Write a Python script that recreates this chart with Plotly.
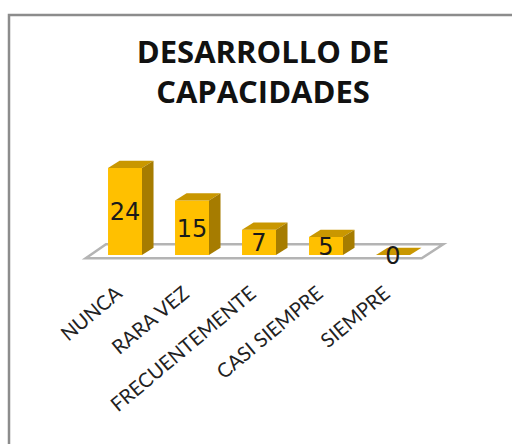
import plotly.graph_objects as go

# chart data
categories = ["NUNCA", "RARA VEZ", "FRECUENTEMENTE", "CASI SIEMPRE", "SIEMPRE"]
values = [24, 15, 7, 5, 0]
positions = list(range(len(categories)))

# fake 3D look, in axis units
BAR_WIDTH = 0.507
DEPTH_X = 0.172
DEPTH_Y = 2.0
LABEL_DROP = 0.8
TICK_SHIFT = 0.12

FRONT = "#FFC000"
TOP = "#C99700"
SIDE = "#A67C00"
FLOOR_LINE = "#B4B4B4"
BORDER = "#8C8C8C"

fig = go.Figure()

fig.add_trace(go.Bar(
    x=positions,
    y=values,
    width=BAR_WIDTH,
    marker=dict(color=FRONT, line=dict(width=0)),
    hoverinfo="skip",
))

# top and side faces of each bar
for pos, val in zip(positions, values):
    left = pos - BAR_WIDTH / 2
    right = pos + BAR_WIDTH / 2
    fig.add_trace(go.Scatter(
        x=[left, right, right + DEPTH_X, left + DEPTH_X, left],
        y=[val, val, val + DEPTH_Y, val + DEPTH_Y, val],
        mode="lines",
        fill="toself",
        fillcolor=TOP,
        line=dict(width=0),
        hoverinfo="skip",
    ))
    if val > 0:
        fig.add_trace(go.Scatter(
            x=[right, right + DEPTH_X, right + DEPTH_X, right, right],
            y=[0, DEPTH_Y, val + DEPTH_Y, val, 0],
            mode="lines",
            fill="toself",
            fillcolor=SIDE,
            line=dict(width=0),
            hoverinfo="skip",
        ))

# data labels
fig.add_trace(go.Scatter(
    x=positions,
    y=[v / 2 - LABEL_DROP for v in values],
    mode="text",
    text=[str(v) for v in values],
    textposition="middle center",
    textfont=dict(family="DejaVu Sans", size=24, color="#1A1A1A"),
    cliponaxis=False,
    hoverinfo="skip",
))

fig.update_layout(
    width=512,
    height=444,
    margin=dict(l=0, r=0, t=0, b=0),
    autosize=False,
    showlegend=False,
    paper_bgcolor="white",
    plot_bgcolor="white",
    title=dict(
        text="<b>DESARROLLO DE<br>CAPACIDADES</b>",
        font=dict(family="Open Sans", size=31, color="#111111"),
        x=263 / 512,
        xanchor="center",
        y=1 - 63 / 444,
        yanchor="top",
    ),
    xaxis=dict(
        range=[-1.866, 5.776],
        tickmode="array",
        tickvals=[p - TICK_SHIFT for p in positions],
        ticktext=categories,
        tickangle=-40,
        tickfont=dict(family="Lato", size=20, color="#222222"),
        ticks="outside",
        ticklen=11,
        tickcolor="rgba(0,0,0,0)",
        showgrid=False,
        zeroline=False,
        showline=False,
        fixedrange=True,
    ),
    yaxis=dict(
        domain=[1 - 262 / 444, 1],
        range=[-1.93, 70.34],
        visible=False,
        fixedrange=True,
    ),
    shapes=[
        # floor
        dict(
            type="path",
            path="M -0.587 -0.9 L 4.428 -0.9 L 4.75 2.95 L -0.284 2.95 Z",
            xref="x",
            yref="y",
            fillcolor="white",
            line=dict(color=FLOOR_LINE, width=2.5),
            layer="below",
        ),
        # outer frame, runs off the right and bottom of the picture
        dict(
            type="rect",
            xref="paper",
            yref="paper",
            x0=9 / 512,
            x1=1.05,
            y0=-0.1,
            y1=1 - 15 / 444,
            line=dict(color=BORDER, width=2.5),
            fillcolor="rgba(0,0,0,0)",
        ),
    ],
)

fig.write_html(
    "out.html",
    config=dict(displayModeBar=False),
    post_script="document.body.style.margin='0';document.body.style.overflow='hidden';",
)
